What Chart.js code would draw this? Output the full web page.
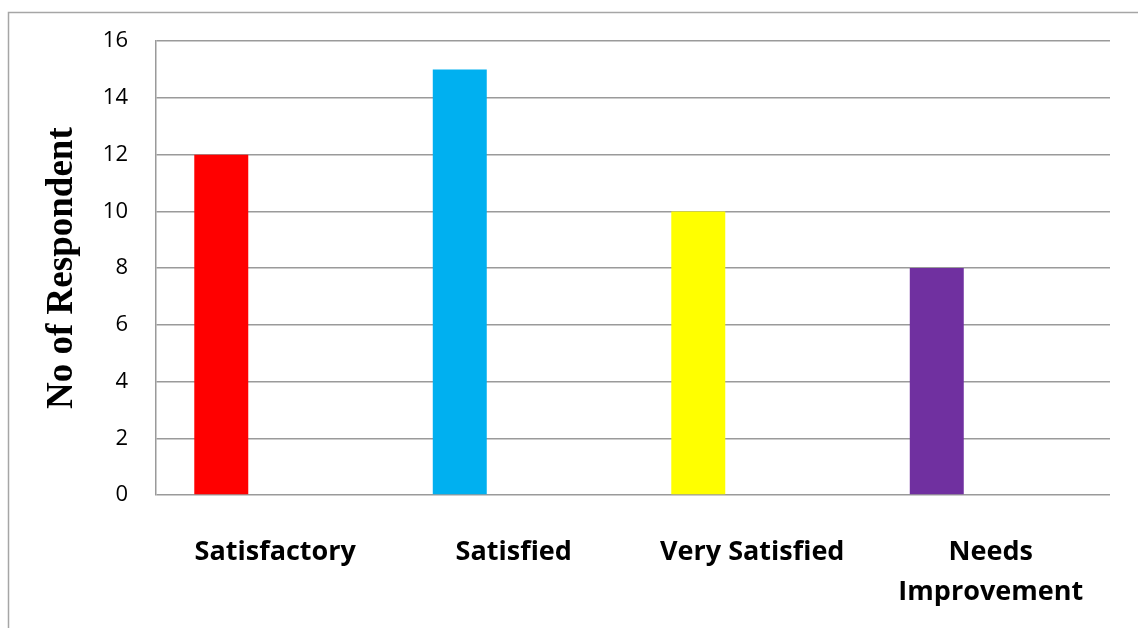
<!DOCTYPE html>
<html>
<head>
<meta charset="utf-8">
<title>No of Respondent</title>
<script src="https://cdn.jsdelivr.net/npm/chart.js@4/dist/chart.umd.min.js"></script>
<style>
    html, body { margin: 0; padding: 0; background: #ffffff; }
    #wrap { width: 1138px; height: 628px; }
</style>
</head>
<body>
<div id="wrap"><canvas id="respondentChart" width="1138" height="628"></canvas></div>
<script>
// Données du graphique
const categories = ['Satisfactory', 'Satisfied', 'Very Satisfied', ['Needs', 'Improvement']];
const respondents = [12, 15, 10, 8];
const barColors = ['#ff0000', '#00b0f0', '#ffff00', '#7030a0'];
// séries vides du classeur d'origine (gardent la place à droite des barres)
const serie2 = [null, null, null, null];
const serie3 = [null, null, null, null];
const yTicks = [0, 2, 4, 6, 8, 10, 12, 14, 16];

const GRID = '#9a9a9a';

// Cadre extérieur (bord gauche et haut)
const framePlugin = {
    id: 'frame',
    beforeDraw(chart) {
        const c = chart.ctx;
        c.save();
        c.strokeStyle = '#a6a6a6';
        c.lineWidth = 1.5;
        c.beginPath();
        c.moveTo(8.5, chart.height);
        c.lineTo(8.5, 12.5);
        c.lineTo(chart.width, 12.5);
        c.stroke();
        c.restore();
    }
};

new Chart(document.getElementById('respondentChart'), {
    type: 'bar',
    data: {
        labels: categories,
        datasets: [
            { label: 'Series1', data: respondents, backgroundColor: barColors },
            { label: 'Series2', data: serie2 },
            { label: 'Series3', data: serie3 }
        ]
    },
    options: {
        responsive: false,
        animation: false,
        categoryPercentage: 0.679,
        barPercentage: 1,
        layout: { padding: { top: 41, right: 28, left: 0, bottom: 0 } },
        plugins: {
            legend: { display: false },
            tooltip: { enabled: false }
        },
        scales: {
            x: {
                grid: { display: false, drawTicks: false },
                border: { display: false },
                ticks: {
                    color: '#000000',
                    padding: 37,
                    maxRotation: 0,
                    autoSkip: false,
                    font: { family: 'Open Sans', size: 27, weight: 'bold', lineHeight: '40px' }
                },
                afterFit(scale) { scale.height = 133; }
            },
            y: {
                min: 0,
                max: 16,
                afterBuildTicks(scale) { scale.ticks = yTicks.map(v => ({ value: v })); },
                grid: { color: GRID, lineWidth: 1.5, drawTicks: false },
                border: { display: true, color: GRID, width: 1.5 },
                ticks: {
                    color: '#000000',
                    padding: 28,
                    font: { family: 'Open Sans', size: 22 }
                },
                title: {
                    display: true,
                    text: 'No of Respondent',
                    color: '#000000',
                    padding: { top: 40, bottom: 0 },
                    font: { family: 'Liberation Serif', size: 37, weight: 'bold' }
                },
                afterFit(scale) { scale.width = 156; }
            }
        }
    },
    plugins: [framePlugin]
});
</script>
</body>
</html>
